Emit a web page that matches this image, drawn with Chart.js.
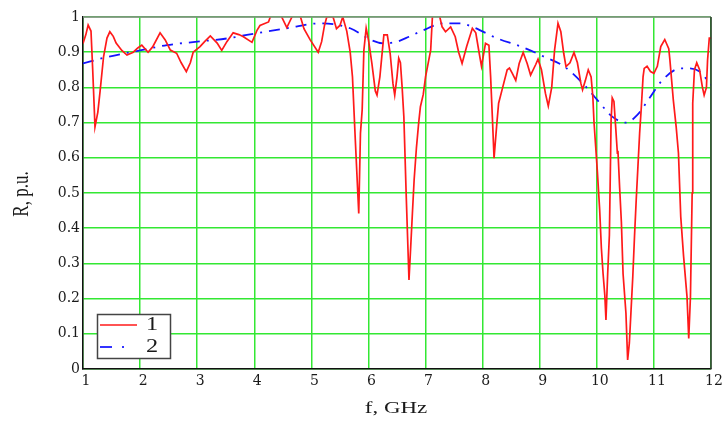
<!DOCTYPE html>
<html>
<head>
<meta charset="utf-8">
<script src="https://cdn.jsdelivr.net/npm/chart.js@4"></script>
<style>
  body { margin: 0; background: #fff; }
  #chart { display: block; }
</style>
</head>
<body>
<canvas id="chart" width="724" height="421"></canvas>
<script>
// Series 1 (red, solid)
const freq1 = [1.00, 1.05, 1.09, 1.14, 1.17, 1.21, 1.26, 1.30, 1.36, 1.42, 1.47, 1.53, 1.58, 1.68, 1.77, 1.88, 1.96, 2.03, 2.14, 2.22,
  2.35, 2.44, 2.53, 2.64, 2.72, 2.81, 2.88, 2.93, 3.05, 3.13, 3.23, 3.35, 3.43, 3.52, 3.63, 3.73, 3.81, 3.96, 4.05, 4.10,
  4.25, 4.28, 4.38, 4.48, 4.57, 4.66, 4.75, 4.81, 4.87, 4.98, 5.12, 5.18, 5.23, 5.27, 5.38, 5.44, 5.50, 5.55, 5.62, 5.68,
  5.72, 5.77, 5.83, 5.86, 5.89, 5.92, 5.96, 6.00, 6.06, 6.12, 6.15, 6.20, 6.27, 6.33, 6.38, 6.43, 6.46, 6.50, 6.53, 6.56,
  6.59, 6.62, 6.66, 6.71, 6.74, 6.77, 6.80, 6.84, 6.88, 6.91, 6.96, 7.00, 7.09, 7.12, 7.20, 7.25, 7.29, 7.35, 7.44, 7.52,
  7.58, 7.64, 7.72, 7.82, 7.88, 7.94, 7.98, 8.05, 8.11, 8.14, 8.17, 8.20, 8.25, 8.28, 8.34, 8.43, 8.47, 8.52, 8.58, 8.64,
  8.71, 8.78, 8.84, 8.93, 8.97, 9.03, 9.10, 9.15, 9.21, 9.26, 9.32, 9.37, 9.42, 9.46, 9.53, 9.60, 9.66, 9.72, 9.75, 9.80,
  9.85, 9.90, 9.93, 9.95, 9.98, 10.01, 10.05, 10.08, 10.11, 10.14, 10.16, 10.19, 10.22, 10.24, 10.25, 10.27, 10.30, 10.33, 10.36, 10.37,
  10.40, 10.43, 10.46, 10.51, 10.54, 10.57, 10.60, 10.63, 10.66, 10.69, 10.72, 10.75, 10.78, 10.81, 10.83, 10.88, 10.94, 11.00, 11.06, 11.12,
  11.19, 11.26, 11.28, 11.34, 11.39, 11.43, 11.47, 11.52, 11.58, 11.61, 11.64, 11.67, 11.68, 11.71, 11.75, 11.80, 11.85, 11.88, 11.92, 11.94,
  11.97, 12.00];
const refl1 = [0.925, 0.95, 0.977, 0.96, 0.85, 0.688, 0.73, 0.79, 0.887, 0.94, 0.958, 0.945, 0.926, 0.905, 0.892, 0.90, 0.912, 0.92, 0.90, 0.915,
  0.955, 0.935, 0.906, 0.897, 0.87, 0.845, 0.87, 0.90, 0.916, 0.93, 0.946, 0.926, 0.905, 0.93, 0.955, 0.95, 0.944, 0.928, 0.963, 0.976,
  0.986, 1.0, 1.02, 1.0, 0.97, 1.0, 1.02, 1.0, 0.967, 0.935, 0.90, 0.93, 0.976, 1.0, 1.0, 0.967, 0.976, 1.0, 0.96, 0.90,
  0.83, 0.65, 0.442, 0.67, 0.736, 0.906, 0.968, 0.935, 0.868, 0.79, 0.778, 0.83, 0.949, 0.949, 0.897, 0.81, 0.778, 0.83, 0.883, 0.87,
  0.80, 0.717, 0.5, 0.253, 0.347, 0.443, 0.537, 0.628, 0.70, 0.745, 0.78, 0.83, 0.906, 1.0, 1.02, 1.0, 0.972, 0.958, 0.972, 0.944,
  0.90, 0.868, 0.916, 0.968, 0.955, 0.897, 0.86, 0.925, 0.92, 0.83, 0.717, 0.599, 0.70, 0.755, 0.793, 0.85, 0.855, 0.84, 0.82, 0.868,
  0.899, 0.868, 0.835, 0.865, 0.88, 0.85, 0.783, 0.747, 0.80, 0.906, 0.982, 0.958, 0.897, 0.859, 0.87, 0.899, 0.87, 0.812, 0.793, 0.82,
  0.85, 0.83, 0.774, 0.703, 0.632, 0.56, 0.452, 0.343, 0.27, 0.21, 0.139, 0.27, 0.38, 0.594, 0.707, 0.77, 0.76, 0.688, 0.613, 0.62,
  0.514, 0.418, 0.27, 0.159, 0.026, 0.074, 0.168, 0.262, 0.376, 0.48, 0.575, 0.67, 0.745, 0.83, 0.854, 0.86, 0.845, 0.84, 0.86, 0.916,
  0.936, 0.91, 0.878, 0.764, 0.688, 0.613, 0.433, 0.32, 0.205, 0.087, 0.205, 0.5, 0.755, 0.85, 0.87, 0.85, 0.80, 0.778, 0.80, 0.878,
  0.94, 0.94];

// Series 2 (blue, dash-dot)
const freq2 = [1.0, 1.44, 2.0, 2.47, 3.0, 3.52, 3.87, 4.05, 4.57, 5.16, 5.68, 6.04, 6.27, 6.5, 6.71, 6.94, 7.32, 7.61, 7.82, 8.26,
  8.67, 9.08, 9.43, 9.78, 10.01, 10.27, 10.51, 10.71, 10.92, 11.15, 11.47, 11.6, 11.8, 12.0];
const refl2 = [0.868, 0.887, 0.905, 0.92, 0.93, 0.939, 0.949, 0.954, 0.968, 0.982, 0.968, 0.935, 0.925, 0.93, 0.944, 0.961, 0.982, 0.982, 0.972, 0.939,
  0.916, 0.887, 0.859, 0.807, 0.764, 0.717, 0.70, 0.722, 0.769, 0.821, 0.854, 0.854, 0.845, 0.807];

const seriesNames = ["1", "2"];
const xTitle = "f, GHz";
const yTitle = "R, p.u.";

const serif = "'Liberation Serif', 'Times New Roman', serif";
const tickFont = { family: "'DejaVu Serif', serif", size: 14 };
const gridGreen = "#33e833";
const redLine = "#ff1a1a";
const blueLine = "#1414ff";

function toPoints(xs, ys) {
  return xs.map((x, i) => ({ x: x, y: ys[i] }));
}

// Draw stretched serif text (the reference text is wide)
function wideText(ctx, text, x, y, size, rotate) {
  ctx.save();
  ctx.translate(x, y);
  if (rotate) {
    ctx.rotate(-Math.PI / 2);
    ctx.scale(1, 1.35);
  } else {
    ctx.scale(1.35, 1);
  }
  ctx.font = size + "px " + serif;
  ctx.fillStyle = "#1a1a1a";
  ctx.textAlign = "center";
  ctx.textBaseline = "middle";
  ctx.fillText(text, 0, 0);
  ctx.restore();
}

// Frame, titles and legend box
const decorPlugin = {
  id: "decor",
  afterDraw(chart) {
    const ctx = chart.ctx;
    const a = chart.chartArea;

    ctx.save();
    ctx.lineWidth = 1.5;
    ctx.strokeStyle = "#888";
    ctx.beginPath();
    ctx.moveTo(a.left, a.top);
    ctx.lineTo(a.right, a.top);
    ctx.stroke();
    ctx.strokeStyle = "#333";
    ctx.beginPath();
    ctx.moveTo(a.right, a.top);
    ctx.lineTo(a.right, a.bottom);
    ctx.stroke();
    ctx.restore();

    wideText(ctx, yTitle, 22, 194, 17, true);
    wideText(ctx, xTitle, 396, 409, 17, false);

    // legend
    const lx = 97.5, ly = 314.5, lw = 73, lh = 44;
    ctx.save();
    ctx.fillStyle = "#fff";
    ctx.fillRect(lx, ly, lw, lh);
    ctx.strokeStyle = "#444";
    ctx.lineWidth = 1.5;
    ctx.strokeRect(lx, ly, lw, lh);

    ctx.lineWidth = 1.5;
    ctx.strokeStyle = redLine;
    ctx.beginPath();
    ctx.moveTo(100, 325);
    ctx.lineTo(137, 325);
    ctx.stroke();

    ctx.strokeStyle = "#3333ff";
    ctx.lineWidth = 2;
    ctx.setLineDash([12, 10, 2, 20]);
    ctx.beginPath();
    ctx.moveTo(100, 347);
    ctx.lineTo(137, 347);
    ctx.stroke();
    ctx.restore();

    wideText(ctx, seriesNames[0], 152, 325, 18, false);
    wideText(ctx, seriesNames[1], 152, 347, 18, false);
  }
};

new Chart(document.getElementById("chart"), {
  type: "line",
  data: {
    datasets: [
      {
        label: seriesNames[0],
        data: toPoints(freq1, refl1),
        borderColor: redLine,
        borderWidth: 1.7,
        pointRadius: 0,
        tension: 0
      },
      {
        label: seriesNames[1],
        data: toPoints(freq2, refl2),
        borderColor: blueLine,
        borderWidth: 1.8,
        borderDash: [11, 7, 2, 7],
        pointRadius: 0,
        cubicInterpolationMode: "monotone"
      }
    ]
  },
  options: {
    responsive: false,
    animation: false,
    layout: { padding: { left: 0, right: 13, top: 17, bottom: 0 } },
    plugins: {
      legend: { display: false },
      tooltip: { enabled: false }
    },
    scales: {
      x: {
        type: "linear",
        min: 1,
        max: 12,
        ticks: {
          stepSize: 1,
          padding: 4,
          labelOffset: 3,
          color: "#1a1a1a",
          font: tickFont,
          maxRotation: 0
        },
        grid: { color: gridGreen, lineWidth: 1.5, drawTicks: false },
        border: { color: "#111", width: 1.5 },
        afterFit(scale) { scale.height = 52; }
      },
      y: {
        min: 0,
        max: 1,
        ticks: {
          stepSize: 0.1,
          padding: 3,
          color: "#1a1a1a",
          font: tickFont,
          callback: v => (v === 0 || v === 1) ? String(v) : v.toFixed(1)
        },
        grid: { color: gridGreen, lineWidth: 1.5, drawTicks: false },
        border: { color: "#111", width: 1.5 },
        afterFit(scale) { scale.width = 83; }
      }
    }
  },
  plugins: [decorPlugin]
});
</script>
</body>
</html>
